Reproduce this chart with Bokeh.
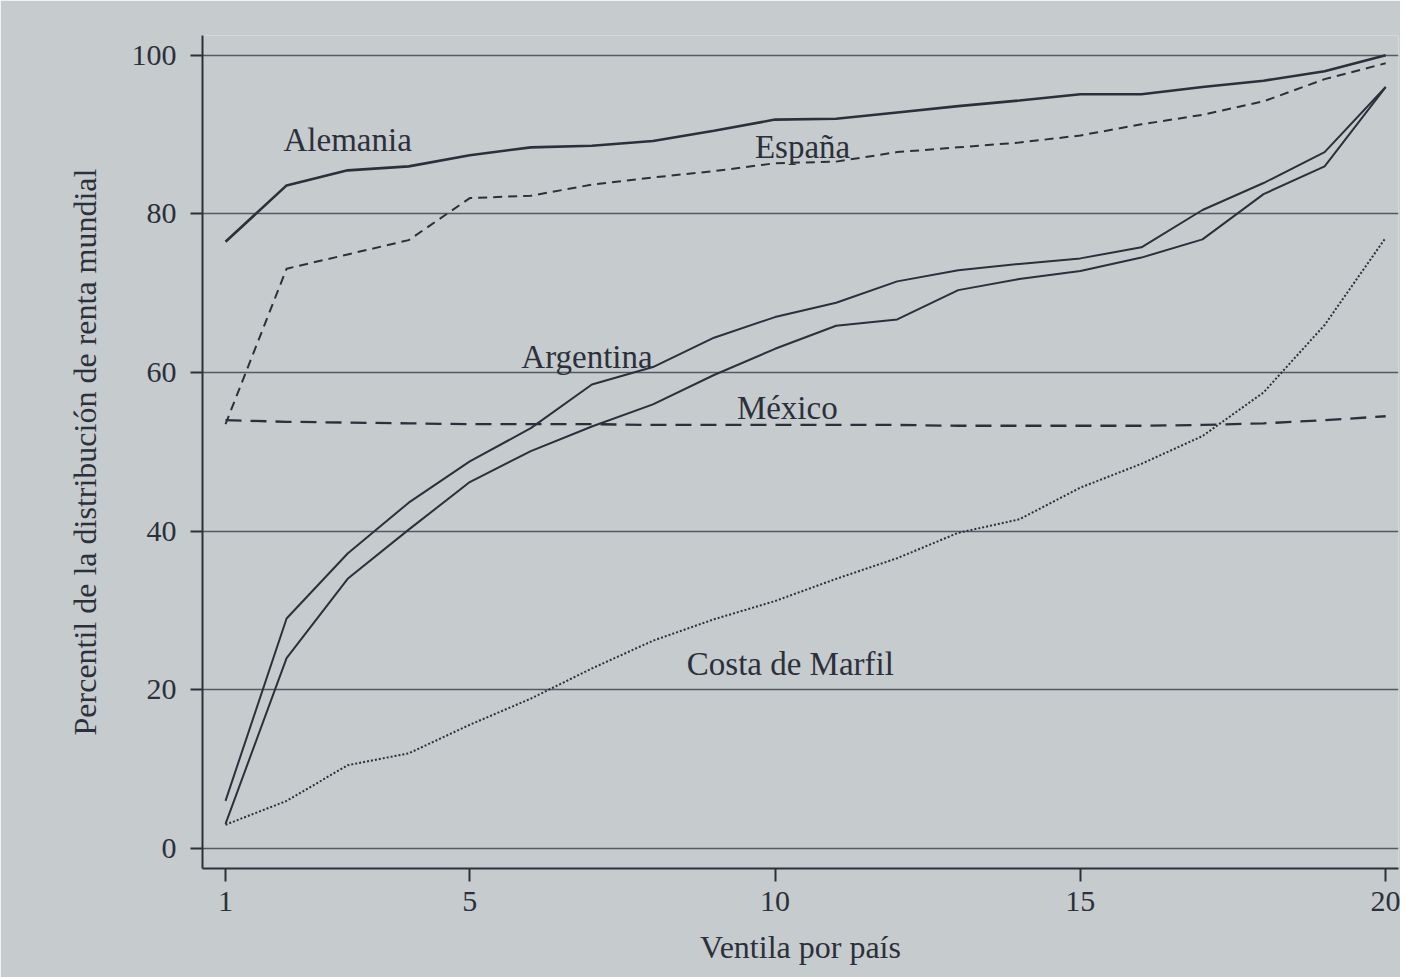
from bokeh.plotting import figure
from bokeh.models import Range1d, FixedTicker, ColumnDataSource
from bokeh.core.properties import value
from bokeh.embed import file_html
from bokeh.resources import INLINE

# ---- data (percentile of world income distribution, by country ventile) ----
ventilas = list(range(1, 21))
alemania = [76.5, 83.6, 85.5, 86.0, 87.4, 88.4, 88.6, 89.2, 90.5, 91.9,
            92.0, 92.8, 93.6, 94.3, 95.1, 95.1, 96.0, 96.8, 98.0, 100.0]
espana = [53.5, 73.1, 74.9, 76.7, 82.0, 82.3, 83.7, 84.6, 85.4, 86.4,
          86.6, 87.8, 88.4, 89.0, 89.9, 91.3, 92.5, 94.2, 97.0, 99.0]
argentina = [6.0, 29.0, 37.2, 43.6, 48.8, 53.0, 58.5, 60.7, 64.4, 67.0,
             68.8, 71.5, 72.9, 73.7, 74.4, 75.8, 80.5, 83.9, 87.8, 96.0]
solida_inferior = [3.1, 24.0, 34.0, 40.2, 46.2, 50.1, 53.2, 56.0, 59.7, 63.0,
                   65.9, 66.7, 70.4, 71.8, 72.8, 74.5, 76.8, 82.5, 86.0, 96.0]
mexico = [54.0, 53.8, 53.7, 53.6, 53.5, 53.5, 53.5, 53.4, 53.4, 53.4,
          53.4, 53.4, 53.3, 53.3, 53.3, 53.3, 53.4, 53.6, 54.0, 54.5]
costa_de_marfil = [3.0, 6.0, 10.5, 12.0, 15.6, 18.9, 22.7, 26.2, 28.9, 31.2,
                   34.0, 36.6, 39.8, 41.5, 45.5, 48.5, 52.0, 57.5, 66.0, 77.0]

y_ticks = [0, 20, 40, 60, 80, 100]
x_ticks = [1, 5, 10, 15, 20]

label_text = ["Alemania", "España", "Argentina", "México", "Costa de Marfil"]
label_x = [3.0, 10.45, 6.92, 10.2, 10.25]
label_y = [89.3, 88.4, 62.0, 55.6, 23.3]

# ---- styling ----
BG = "#c6cbce"
INK = "#2c303a"
GRID = "#555a62"
FONT = "Liberation Serif"

p = figure(width=1400, height=977, output_backend="svg", toolbar_location=None,
           x_range=Range1d(0.623, 20.21), y_range=Range1d(-2.52, 102.5),
           min_border_left=202, min_border_right=2, min_border_top=35,
           min_border_bottom=109)
p.background_fill_color = BG
p.border_fill_color = BG
p.outline_line_color = None

p.xgrid.visible = False
p.ygrid.ticker = FixedTicker(ticks=y_ticks)
p.ygrid.grid_line_color = GRID
p.ygrid.grid_line_width = 1.6

p.yaxis.ticker = FixedTicker(ticks=y_ticks)
p.xaxis.ticker = FixedTicker(ticks=x_ticks)
for ax in (p.xaxis, p.yaxis):
    ax.axis_line_color = INK
    ax.axis_line_width = 2
    ax.major_tick_line_color = INK
    ax.major_tick_line_width = 2
    ax.major_tick_in = 0
    ax.minor_tick_line_color = None
    ax.major_label_text_font = FONT
    ax.major_label_text_font_size = "30px"
    ax.major_label_text_color = INK
    ax.axis_label_text_font = FONT
    ax.axis_label_text_font_size = "32px"
    ax.axis_label_text_font_style = "normal"
    ax.axis_label_text_color = INK

p.yaxis.major_tick_out = 12
p.yaxis.major_label_standoff = 14
p.yaxis.axis_label = "Percentil de la distribución de renta mundial"
p.yaxis.axis_label_standoff = 26

p.xaxis.major_tick_out = 13
p.xaxis.major_label_standoff = 10
p.xaxis.axis_label = "Ventila por país"
p.xaxis.axis_label_standoff = 15

src = ColumnDataSource(dict(v=ventilas, alemania=alemania, espana=espana,
                            argentina=argentina, inferior=solida_inferior,
                            mexico=mexico, costa=costa_de_marfil))

p.line("v", "mexico", source=src, line_color=INK, line_width=2.3, line_dash="16 9")
p.line("v", "costa", source=src, line_color=INK, line_width=2, line_dash="2 2")
p.line("v", "inferior", source=src, line_color=INK, line_width=2)
p.line("v", "argentina", source=src, line_color=INK, line_width=2)
p.line("v", "espana", source=src, line_color=INK, line_width=2, line_dash="9 6")
p.line("v", "alemania", source=src, line_color=INK, line_width=2.6)

lab = ColumnDataSource(dict(x=label_x, y=label_y, t=label_text))
p.text("x", "y", text="t", source=lab, text_font=value(FONT), text_font_size="33px",
       text_color=INK, text_align="center", text_baseline="middle")

open("out.html", "w").write(file_html(p, INLINE))
